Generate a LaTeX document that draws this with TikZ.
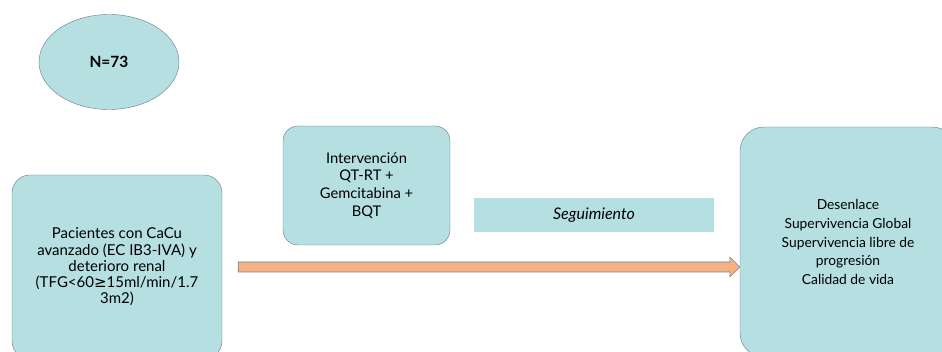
\documentclass[tikz,border=0pt]{standalone}
\usepackage{fontspec}
\setmainfont{Lato}
\newfontfamily\symfont{DejaVu Sans}
\usepackage{tikz}
\usetikzlibrary{shapes, arrows, positioning, calc}
\definecolor{boxfill}{RGB}{181,223,225}
\definecolor{boxline}{RGB}{100,120,140}
\definecolor{arrowfill}{RGB}{244,177,131}
\definecolor{arrowline}{RGB}{120,130,145}

\begin{document}
\begin{tikzpicture}[x=1pt, y=-1pt,
    stagebox/.style={draw=boxline, fill=boxfill, rectangle, rounded corners=18pt, align=center, inner sep=0pt},
    every node/.style={font=\fontsize{13}{16.5}\selectfont}]
    \useasboundingbox (0,0) rectangle (942,352);
    \clip (0,0) rectangle (942,352);
    \node (total) [draw=boxline, fill=boxfill, ellipse, minimum width=140pt, minimum height=95pt, font=\fontsize{15.5}{18}\selectfont\bfseries] at (109,62) {N=73};
    \node (pac) [stagebox, minimum width=210pt, minimum height=184pt, font=\fontsize{15}{16.3}\selectfont] at (117,267) {Pacientes con CaCu \\ avanzado (EC IB3-IVA) y \\ deterioro renal \\ (TFG<60{\symfont ≥}15ml/min/1.7 \\ 3m2)};
    \node (interv) [stagebox, rounded corners=15pt, minimum width=167pt, minimum height=119pt, font=\fontsize{14.7}{17.7}\selectfont] at (366.5,185.5) {Intervención \\ QT-RT + \\ Gemcitabina + \\ BQT};
    \node (seg) [fill=boxfill, rectangle, minimum width=240pt, minimum height=34pt, inner sep=0pt, font=\fontsize{16}{18}\selectfont\itshape] at (594,215) {Seguimiento};
    \node (des) [stagebox, rounded corners=24pt, minimum width=216pt, minimum height=230pt, font=\fontsize{13.8}{18.7}\selectfont] at (848,242) {Desenlace \\ Supervivencia Global \\ Supervivencia libre de \\ progresión \\ Calidad de vida};

    % block arrow from the patients to the outcome
    \coordinate (start) at ($(pac.east)+(16,0)$);
    \coordinate (tip) at (pac.east -| des.west);
    \draw[draw=arrowline, fill=arrowfill, line width=0.6pt] ($(start)+(0,-5)$) -- ($(tip)+(-10,-5)$) -- ($(tip)+(-10,-10)$) -- (tip) -- ($(tip)+(-10,10)$) -- ($(tip)+(-10,5)$) -- ($(start)+(0,5)$) -- cycle;
\end{tikzpicture}
\end{document}
